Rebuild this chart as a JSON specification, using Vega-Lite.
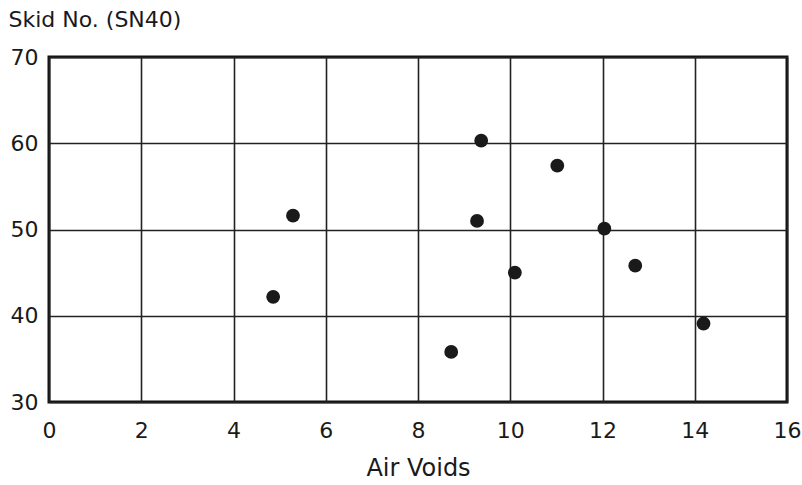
{
  "$schema": "https://vega.github.io/schema/vega-lite/v6.json",
  "width": 738,
  "height": 345,
  "autosize": {"type": "none"},
  "padding": {"left": 49, "top": 57, "right": 15, "bottom": 83},
  "background": "white",
  "config": {
    "font": "DejaVu Sans",
    "view": {"stroke": "#111111", "strokeWidth": 3}
  },
  "data": {
    "values": [
      {"air_voids": 4.86, "sn40": 42.2},
      {"air_voids": 5.29, "sn40": 51.6},
      {"air_voids": 8.72, "sn40": 35.8},
      {"air_voids": 9.28, "sn40": 51.0},
      {"air_voids": 9.37, "sn40": 60.3},
      {"air_voids": 10.1, "sn40": 45.0},
      {"air_voids": 11.02, "sn40": 57.4},
      {"air_voids": 12.04, "sn40": 50.1},
      {"air_voids": 12.71, "sn40": 45.8},
      {"air_voids": 14.19, "sn40": 39.1}
    ]
  },
  "mark": {"type": "circle", "size": 190, "color": "#1a1a1a", "opacity": 1},
  "encoding": {
    "x": {
      "field": "air_voids",
      "type": "quantitative",
      "scale": {"domain": [0, 16], "nice": false, "zero": false},
      "axis": {
        "title": "Air Voids",
        "values": [0, 2, 4, 6, 8, 10, 12, 14, 16],
        "ticks": false,
        "domain": false,
        "grid": true,
        "gridColor": "#222222",
        "gridWidth": 1.6,
        "gridOpacity": 1,
        "labelFontSize": 22,
        "labelColor": "#1a1a1a",
        "labelPadding": 18,
        "labelFlush": false,
        "titleFontSize": 24,
        "titleFontWeight": "normal",
        "titleColor": "#1a1a1a",
        "titlePadding": 15
      }
    },
    "y": {
      "field": "sn40",
      "type": "quantitative",
      "scale": {"domain": [30, 70], "nice": false, "zero": false},
      "axis": {
        "title": "Skid No. (SN40)",
        "values": [30, 40, 50, 60, 70],
        "ticks": false,
        "domain": false,
        "grid": true,
        "gridColor": "#222222",
        "gridWidth": 1.6,
        "gridOpacity": 1,
        "labelFontSize": 22,
        "labelColor": "#1a1a1a",
        "labelPadding": 11,
        "labelFlush": false,
        "titleFontSize": 22,
        "titleFontWeight": "normal",
        "titleColor": "#1a1a1a",
        "titleAngle": 0,
        "titleAlign": "left",
        "titleBaseline": "alphabetic",
        "titleX": -41,
        "titleY": -31
      }
    }
  }
}
